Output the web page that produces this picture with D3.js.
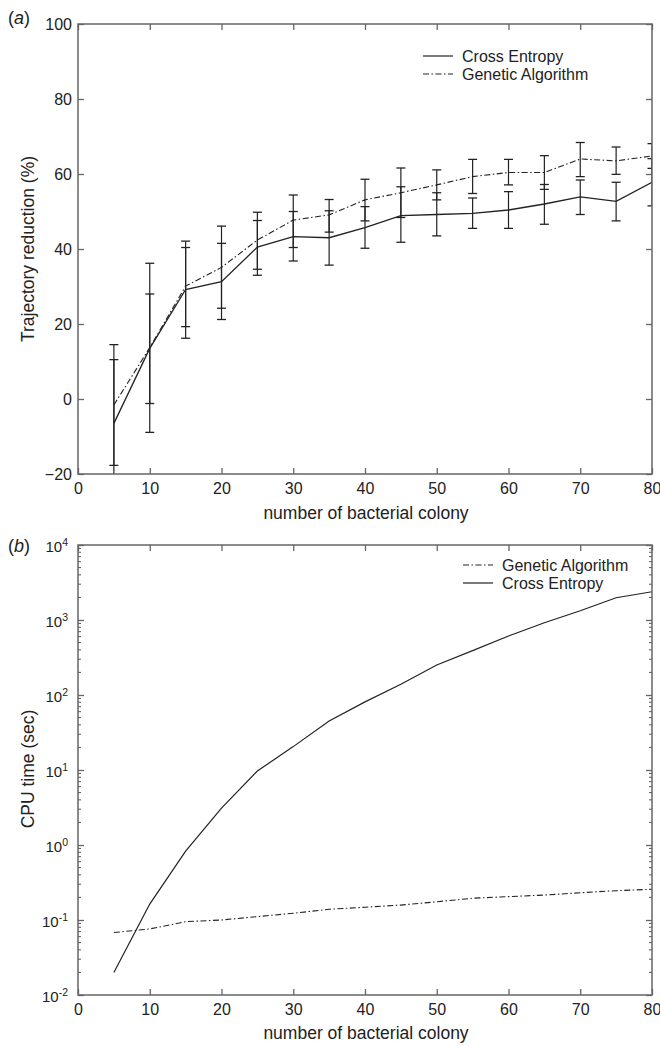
<!DOCTYPE html>
<html><head><meta charset="utf-8">
<script src="https://cdn.jsdelivr.net/npm/d3@7"></script>
<style>body{margin:0;background:#fff}text{font-family:"Liberation Sans",Arial,sans-serif;fill:#222}</style>
</head><body><svg id="c" width="660" height="1046"></svg>
<script>
// ---- data ----
const colonies = [5,10,15,20,25,30,35,40,45,50,55,60,65,70,75,80];
const ceMean = [-6.5,13.5,29.2,31.3,40.5,43.3,43.0,45.7,48.9,49.2,49.5,50.4,52.0,53.9,52.7,57.8];
const ceLow  = [-23.5,-1.2,16.2,21.2,33.0,36.8,35.7,40.2,41.8,43.5,45.5,45.5,46.6,49.2,47.5,51.5];
const ceHigh = [10.5,28.0,42.1,41.5,47.6,50.0,50.2,51.3,56.6,55.0,53.6,55.3,57.2,58.4,57.8,64.1];
const gaMean = [-1.6,13.7,30.1,35.1,42.4,47.7,49.1,53.1,55.0,57.1,59.3,60.4,60.4,64.0,63.5,64.8];
const gaLow  = [-17.7,-8.9,19.3,24.2,34.6,40.4,44.5,47.5,48.4,53.1,54.8,57.1,55.9,59.3,59.9,61.5];
const gaHigh = [14.5,36.2,40.4,46.1,49.8,54.4,53.2,58.6,61.6,61.1,63.9,63.9,64.9,68.4,67.2,68.1];
const cpuCE = [0.02,0.163,0.83,3.1,9.7,20.5,45,81,139,251,390,612,920,1330,1980,2380];
const cpuGA = [0.068,0.076,0.095,0.100,0.111,0.123,0.139,0.148,0.158,0.175,0.195,0.205,0.215,0.231,0.246,0.257];
const xTicks = [0,10,20,30,40,50,60,70,80];
const yTicksA = [-20,0,20,40,60,80,100];
const yTicksB = [1e-2,1e-1,1e0,1e1,1e2,1e3,1e4];
const seriesNames = ["Cross Entropy","Genetic Algorithm"];
const xLabel = "number of bacterial colony";
const yLabelA = "Trajectory reduction (%)";
const yLabelB = "CPU time (sec)";

const svg = d3.select("#c");
const L = 78, R = 652;
const frameColor = "#666", lineColor = "#222", dashGA = "6,2.5,1.5,2.5";

function frame(g, top, bottom) {
  g.append("rect").attr("x", L).attr("y", top).attr("width", R - L).attr("height", bottom - top)
    .attr("fill", "none").attr("stroke", frameColor).attr("stroke-width", 1.5);
}
function xAxes(x, top, bottom, labelY) {
  const gb = svg.append("g").attr("transform", `translate(0,${bottom})`)
    .call(d3.axisBottom(x).tickValues(xTicks).tickSize(-6).tickPadding(9).tickSizeOuter(0));
  const gt = svg.append("g").attr("transform", `translate(0,${top})`)
    .call(d3.axisTop(x).tickValues(xTicks).tickSize(-6).tickFormat("").tickSizeOuter(0));
  [gb, gt].forEach(g => { g.select(".domain").remove(); g.selectAll("line").attr("stroke", frameColor).attr("stroke-width", 1.3); });
  gb.selectAll("text").attr("font-size", 16).style("fill", "#222");
  svg.append("text").attr("x", (L + R) / 2 + 1).attr("y", labelY).attr("text-anchor", "middle")
    .attr("font-size", 17.5).text(xLabel);
}
function legend(x0, ys, dashes, names) {
  names.forEach((n, i) => {
    svg.append("line").attr("x1", x0).attr("x2", x0 + 30).attr("y1", ys[i]).attr("y2", ys[i])
      .attr("stroke", lineColor).attr("stroke-width", 1.2).attr("stroke-dasharray", dashes[i]);
    svg.append("text").attr("x", x0 + 39).attr("y", ys[i] + 5.5).attr("font-size", 16).text(n);
  });
}

// ---------- panel (a) ----------
const xA = d3.scaleLinear([0, 80], [L, R]);
const yA = d3.scaleLinear([-20, 100], [474, 24]);
svg.append("clipPath").attr("id", "clipA").append("rect").attr("x", L).attr("y", 24).attr("width", R - L).attr("height", 450);
svg.append("clipPath").attr("id", "clipB").append("rect").attr("x", L).attr("y", 545).attr("width", R - L).attr("height", 450);

const gA = svg.append("g");
const gl = gA.append("g").attr("transform", `translate(${L},0)`)
  .call(d3.axisLeft(yA).tickValues(yTicksA).tickSize(-6).tickPadding(6).tickSizeOuter(0));
const gr = gA.append("g").attr("transform", `translate(${R},0)`)
  .call(d3.axisRight(yA).tickValues(yTicksA).tickSize(-6).tickFormat("").tickSizeOuter(0));
[gl, gr].forEach(g => { g.select(".domain").remove(); g.selectAll("line").attr("stroke", frameColor).attr("stroke-width", 1.3); });
gl.selectAll("text").attr("font-size", 16).style("fill", "#222");
xAxes(xA, 24, 474, 519);

const pA = gA.append("g").attr("clip-path", "url(#clipA)");
const bars = [[ceLow, ceHigh], [gaLow, gaHigh]];
bars.forEach(([lo, hi]) => {
  colonies.forEach((c, i) => {
    const x = xA(c);
    pA.append("line").attr("x1", x).attr("x2", x).attr("y1", yA(lo[i])).attr("y2", yA(hi[i]))
      .attr("stroke", lineColor).attr("stroke-width", 1.2);
    [lo[i], hi[i]].forEach(v => pA.append("line").attr("x1", x - 4.5).attr("x2", x + 4.5)
      .attr("y1", yA(v)).attr("y2", yA(v)).attr("stroke", lineColor).attr("stroke-width", 1.3));
  });
});
const lineA = d3.line().x((d, i) => xA(colonies[i])).y(d => yA(d));
pA.append("path").datum(ceMean).attr("d", lineA).attr("fill", "none").attr("stroke", lineColor).attr("stroke-width", 1.3);
pA.append("path").datum(gaMean).attr("d", lineA).attr("fill", "none").attr("stroke", lineColor).attr("stroke-width", 1.1).attr("stroke-dasharray", dashGA);
frame(gA, 24, 474);
legend(423, [56, 74], [null, dashGA], seriesNames);
svg.append("text").attr("x", 28).attr("y", 249).attr("text-anchor", "middle").attr("font-size", 17.5)
  .attr("transform", "rotate(-90,28,249)").attr("dy", "0.35em").text(yLabelA);
const ta = svg.append("text").attr("x", 8).attr("y", 24).attr("font-size", 18);
ta.append("tspan").text("(");
ta.append("tspan").attr("font-style", "italic").text("a");
ta.append("tspan").text(")");

// ---------- panel (b) ----------
const yB = d3.scaleLog([1e-2, 1e4], [995, 545]);
const gB = svg.append("g");
const minor = [];
for (let e = -2; e < 4; e++) for (let m = 2; m <= 9; m++) minor.push(m * Math.pow(10, e));
[[L, 1], [R, -1]].forEach(([x0, s]) => {
  gB.selectAll(null).data(minor).enter().append("line")
    .attr("x1", x0).attr("x2", x0 + s * 3).attr("y1", d => yB(d)).attr("y2", d => yB(d))
    .attr("stroke", frameColor).attr("stroke-width", 1.1);
});
const bl = gB.append("g").attr("transform", `translate(${L},0)`)
  .call(d3.axisLeft(yB).tickValues(yTicksB).tickSize(-6).tickPadding(10).tickSizeOuter(0).tickFormat(() => ""));
const br = gB.append("g").attr("transform", `translate(${R},0)`)
  .call(d3.axisRight(yB).tickValues(yTicksB).tickSize(-6).tickFormat("").tickSizeOuter(0));
[bl, br].forEach(g => { g.select(".domain").remove(); g.selectAll("line").attr("stroke", frameColor).attr("stroke-width", 1.3); });
bl.selectAll(".tick text").each(function (d) {
  const t = d3.select(this).attr("font-size", 15).style("fill", "#222").attr("dy", "0.45em");
  t.text("10");
  t.append("tspan").attr("dy", "-0.6em").attr("font-size", 10.5).text(Math.round(Math.log10(d)));
});
xAxes(xA, 545, 995, 1039);
const pB = gB.append("g").attr("clip-path", "url(#clipB)");
const lineB = d3.line().x((d, i) => xA(colonies[i])).y(d => yB(d));
pB.append("path").datum(cpuCE).attr("d", lineB).attr("fill", "none").attr("stroke", lineColor).attr("stroke-width", 1.2);
pB.append("path").datum(cpuGA).attr("d", lineB).attr("fill", "none").attr("stroke", lineColor).attr("stroke-width", 1.1).attr("stroke-dasharray", dashGA);
frame(gB, 545, 995);
legend(463, [565, 583], [dashGA, null], [seriesNames[1], seriesNames[0]]);
svg.append("text").attr("x", 28).attr("y", 769).attr("text-anchor", "middle").attr("font-size", 17.5)
  .attr("transform", "rotate(-90,28,769)").attr("dy", "0.35em").text(yLabelB);
const tb = svg.append("text").attr("x", 8).attr("y", 552).attr("font-size", 18);
tb.append("tspan").text("(");
tb.append("tspan").attr("font-style", "italic").text("b");
tb.append("tspan").text(")");
</script></body></html>
